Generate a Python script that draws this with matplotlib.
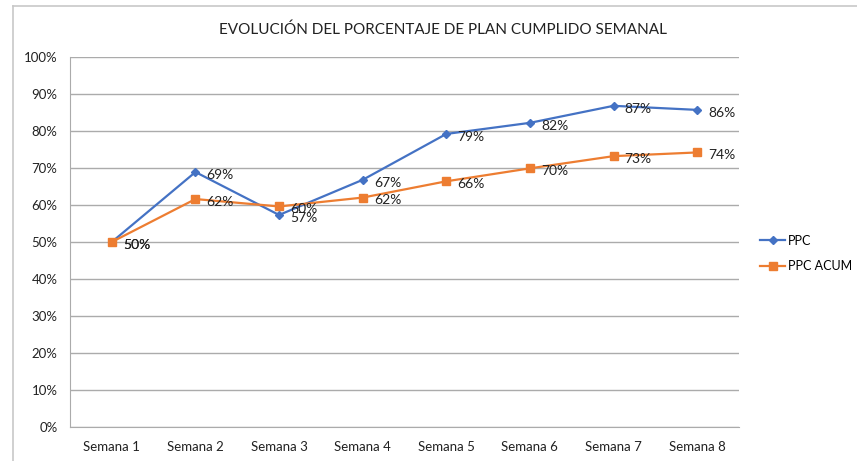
import matplotlib
matplotlib.use("Agg")
import matplotlib.pyplot as plt
from matplotlib.lines import Line2D

plt.rcParams['font.family'] = ['Lato', 'DejaVu Sans']

semanas = ["Semana 1", "Semana 2", "Semana 3", "Semana 4",
           "Semana 5", "Semana 6", "Semana 7", "Semana 8"]
ppc = [0.50, 0.689, 0.573, 0.668, 0.792, 0.822, 0.868, 0.857]
ppc_acum = [0.50, 0.616, 0.596, 0.620, 0.664, 0.699, 0.732, 0.742]
y_ticks = [0.0, 0.1, 0.2, 0.3, 0.4, 0.5, 0.6, 0.7, 0.8, 0.9, 1.0]

BLUE = "#4472C4"
ORANGE = "#ED7D31"
GRID = "#ababab"
TEXT = "#222222"

fig = plt.figure(figsize=(8.57, 4.61), dpi=100)
ax = fig.add_axes([0.0817, 0.0738, 0.7806, 0.8026])

x = list(range(1, len(semanas) + 1))
ax.plot(x, ppc, color=BLUE, lw=1.6, marker="D", ms=4, label="PPC", zorder=3)
ax.plot(x, ppc_acum, color=ORANGE, lw=1.6, marker="s", ms=6, label="PPC ACUM", zorder=3)

for xi, v in zip(x, ppc):
    ax.annotate(f"{v*100:.0f}%", (xi, v), xytext=(8, -2), textcoords="offset points",
                ha="left", va="center", fontsize=10, color=TEXT, zorder=4)
for xi, v in zip(x, ppc_acum):
    ax.annotate(f"{v*100:.0f}%", (xi, v), xytext=(8, -2), textcoords="offset points",
                ha="left", va="center", fontsize=10, color=TEXT, zorder=4)

ax.set_xlim(0.5, len(semanas) + 0.5)
ax.set_ylim(0, 1.0)
ax.set_xticks(x)
ax.set_xticklabels(semanas)
ax.set_yticks(y_ticks)
ax.set_yticklabels([f"{t*100:.0f}%" for t in y_ticks])
ax.tick_params(axis="both", length=0, labelsize=9.5, colors=TEXT)
ax.tick_params(axis="x", pad=10)
ax.tick_params(axis="y", pad=9)
ax.grid(axis="y", color=GRID, lw=1.0)
ax.set_axisbelow(True)
for s in ("top", "right"):
    ax.spines[s].set_visible(False)
ax.spines["left"].set_color(GRID)
ax.spines["bottom"].set_color(GRID)

fig.text(0.517, 0.935, "EVOLUCIÓN DEL PORCENTAJE DE PLAN CUMPLIDO SEMANAL",
         ha="center", va="center", fontsize=11, color=TEXT)

handles = [Line2D([], [], color=BLUE, lw=1.6, marker="D", ms=4),
           Line2D([], [], color=ORANGE, lw=1.6, marker="s", ms=6)]
fig.legend(handles, ["PPC", "PPC ACUM"], loc="center left",
           bbox_to_anchor=(0.887, 0.45), frameon=False, fontsize=9,
           handlelength=2.0, handletextpad=0.25, labelspacing=1.1,
           borderaxespad=0, borderpad=0)

# chart frame on the left and top edges
fig.add_artist(Line2D([0.0152, 0.0152], [0, 0.987], color="#c8c8c8", lw=1.2,
                      transform=fig.transFigure))
fig.add_artist(Line2D([0.0152, 1.0], [0.987, 0.987], color="#c8c8c8", lw=1.2,
                      transform=fig.transFigure))

fig.savefig("out.png", dpi=100)
